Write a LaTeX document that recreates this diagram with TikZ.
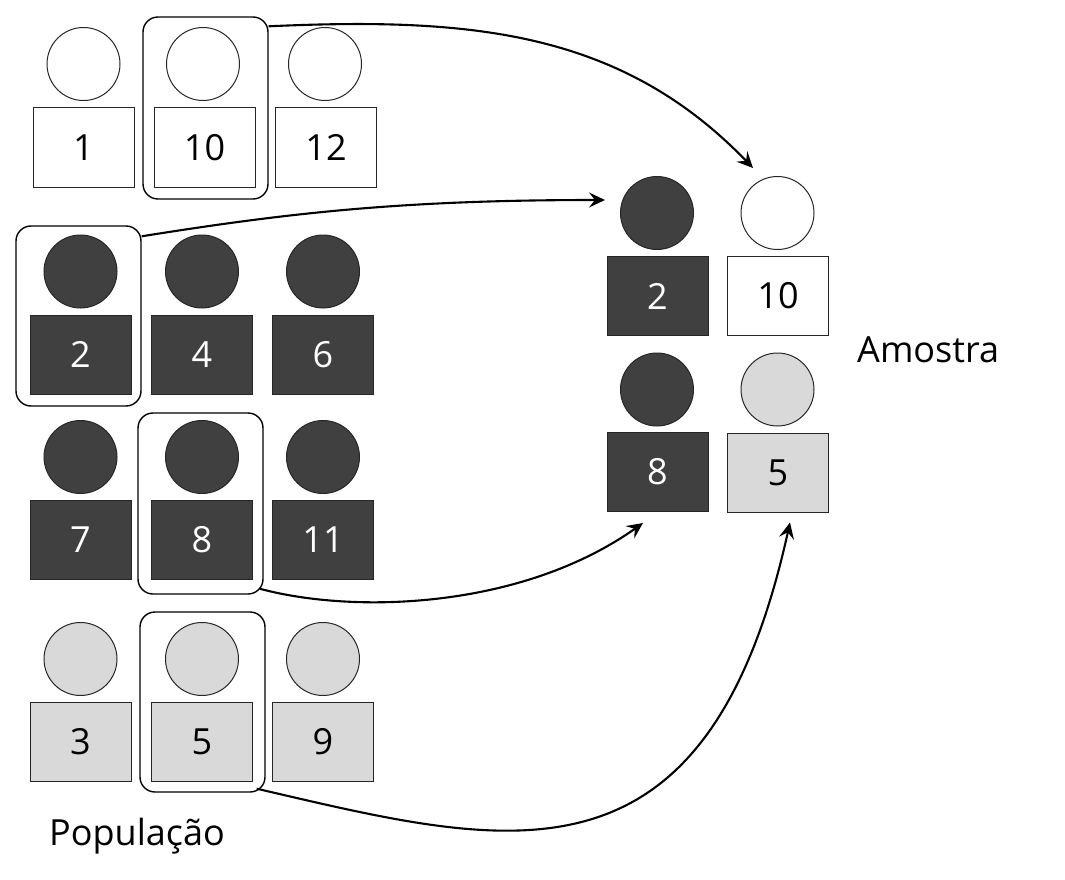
\documentclass[tikz,border=0pt]{standalone}
\usepackage{fontspec}
\setmainfont{Open Sans}
\usetikzlibrary{arrows.meta,calc}
\definecolor{darkfill}{HTML}{404040}
\definecolor{lightfill}{HTML}{D9D9D9}
\definecolor{edge}{HTML}{262626}
\tikzset{
  head/.style={circle, draw=edge, line width=1pt, minimum size=73pt, inner sep=0pt},
  body/.style={rectangle, draw=edge, line width=1pt, minimum width=101pt, minimum height=79pt, inner sep=0pt, font=\fontsize{36}{43}\selectfont},
  dk/.style={fill=darkfill, text=white},
  lt/.style={fill=lightfill, text=black},
  wt/.style={fill=white, text=black},
  grp/.style={rectangle, draw=black, line width=1.4pt, rounded corners=15pt, minimum width=125pt, inner sep=0pt},
  conn/.style={draw=black, line width=2.1pt, -{Stealth[length=16pt,width=15pt,inset=6pt]}},
  lbl/.style={font=\fontsize{36}{43}\selectfont, anchor=base west, inner sep=0pt}
}
\begin{document}
\begin{tikzpicture}[x=1pt,y=-1pt]
\useasboundingbox (0,0) rectangle (1065,880);
% Population row 1 (white)
\node[head,wt] (c1) at (83.5,64) {};
\node[body,wt] (r1) at (83.5,147.5) {1};
\node[head,wt] (c10) at (203,64) {};
\node[body,wt] (r10) at (204.5,147.5) {10};
\node[head,wt] (c12) at (325,64) {};
\node[body,wt] (r12) at (326,147.5) {12};
% row 2 (dark)
\node[head,dk] (c2) at (80.5,271.5) {};
\node[body,dk] (r2) at (80.5,354.5) {2};
\node[head,dk] (c4) at (202,271.5) {};
\node[body,dk] (r4) at (202,354.5) {4};
\node[head,dk] (c6) at (323,271.5) {};
\node[body,dk] (r6) at (323,354.5) {6};
% row 3 (dark)
\node[head,dk] (c7) at (80.5,457) {};
\node[body,dk] (r7) at (80.5,540) {7};
\node[head,dk] (c8) at (202,457) {};
\node[body,dk] (r8) at (202,540) {8};
\node[head,dk] (c11) at (323,457) {};
\node[body,dk] (r11) at (323,540) {11};
% row 4 (light)
\node[head,lt] (c3) at (80.5,659) {};
\node[body,lt] (r3) at (80.5,741.5) {3};
\node[head,lt] (c5) at (202,659) {};
\node[body,lt] (r5) at (202,741.5) {5};
\node[head,lt] (c9) at (323,659) {};
\node[body,lt] (r9) at (323,741.5) {9};
% selection boxes
\node[grp, minimum height=182pt] (b10) at (205.5,108) {};
\node[grp, minimum height=180pt] (b2) at (78.5,316) {};
\node[grp, minimum height=181pt] (b8) at (200.5,503.5) {};
\node[grp, minimum height=180pt] (b5) at (202.5,702) {};
% sample
\node[head,dk] (sc2) at (657,213) {};
\node[body,dk] (sr2) at (657.5,296) {2};
\node[head,wt] (sc10) at (777.5,213) {};
\node[body,wt] (sr10) at (778,296) {10};
\node[head,dk] (sc8) at (657,389.5) {};
\node[body,dk] (sr8) at (657.5,472) {8};
\node[head,lt] (sc5) at (777.5,389.5) {};
\node[body,lt] (sr5) at (778,472.5) {5};
% labels
\node[lbl] (pop) at (49,845) {População};
\node[lbl] (amo) at (857,362) {Amostra};
% connectors
\draw[conn] ($(b10.north east)+(0,10)$) .. controls +(200,-9) and +(-133,-138) .. ($(sc10)+(-24.5,-45)$);
\draw[conn] ($(b2.north east)+(0,11)$) .. controls +(150,-24) and +(-200,0) .. ($(sc2)+(-52,-13)$);
\draw[conn] ($(b8.south east)+(-4,-6)$) .. controls +(92,25) and +(-123,87) .. ($(sr8.south)+(-14.5,11)$);
\draw[conn] ($(b5.south east)+(-9,-4)$) .. controls +(250,58) and +(-84,380) .. ($(sr5.south)+(12,10)$);
\end{tikzpicture}
\end{document}
